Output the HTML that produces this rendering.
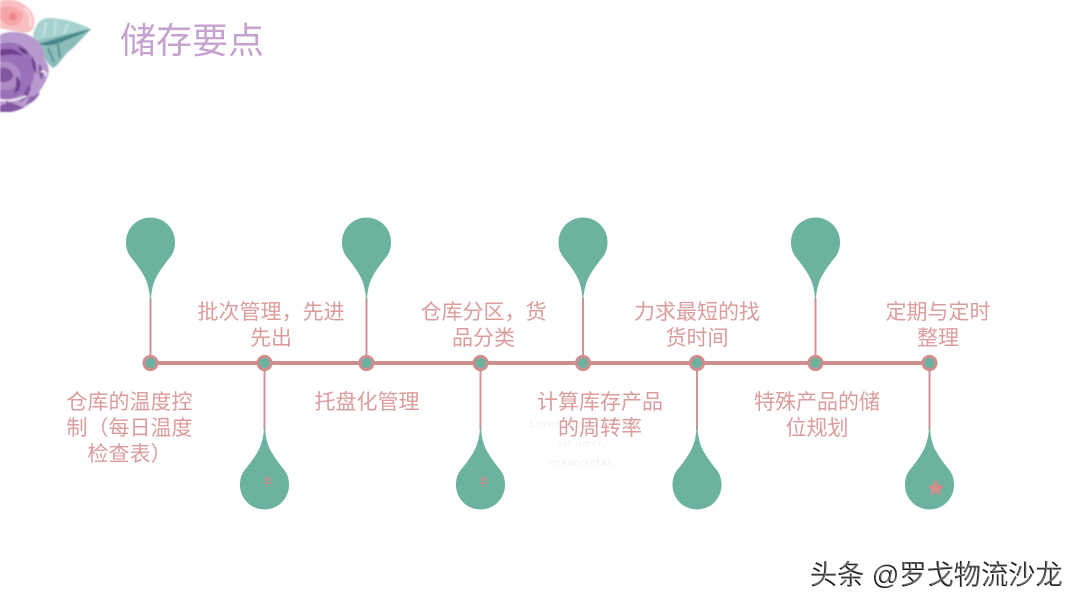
<!DOCTYPE html>
<html lang="zh">
<head>
<meta charset="utf-8">
<style>
html,body{margin:0;padding:0;background:#fff;}
#p{position:relative;width:1080px;height:608px;overflow:hidden;background:#fff;font-family:"Liberation Sans","Noto Sans CJK SC",sans-serif;}
svg{position:absolute;left:0;top:0;}
.t{position:absolute;text-align:center;color:#dc9c9b;font-size:21px;line-height:26px;white-space:nowrap;transform:translateX(-50%);}
#title{position:absolute;left:120px;top:16px;font-size:36px;line-height:50px;color:#c6a2cf;white-space:nowrap;}
.wm{position:absolute;left:810px;top:556px;font-size:27.2px;line-height:38px;color:#111;white-space:nowrap;letter-spacing:0;}
.wm.o{left:811px;top:555px;color:rgba(255,255,255,.35);}
.f{position:absolute;color:#f0eeee;font-family:"Liberation Serif",serif;font-style:italic;font-size:11px;line-height:19px;text-align:center;white-space:nowrap;transform:translateX(-50%);letter-spacing:1.3px;}
</style>
</head>
<body>
<div id="p">
<svg width="1080" height="608" viewBox="0 0 1080 608">
  <defs>
    <filter id="b"><feGaussianBlur stdDeviation="0.7"/></filter>
    <path id="up" d="M0,303 C-1,289 -3,282 -7,275 C-11,268 -15,263 -19,258 C-22.5,254 -24.5,249 -24.5,242 A24.5,24.5 0 1 1 24.5,242 C24.5,249 22.5,254 19,258 C15,263 11,268 7,275 C3,282 1,289 0,303 Z"/>
    <path id="dn" d="M0,424 C1,438 3,445 7,452 C11,459 15,464 19,469 C22.5,473 24.5,478 24.5,485 A24.5,24.5 0 1 1 -24.5,485 C-24.5,478 -22.5,473 -19,469 C-15,464 -11,459 -7,452 C-3,445 -1,438 0,424 Z"/>
  </defs>

  <!-- leaf -->
  <g filter="url(#b)">
    <path d="M33,35 C36,24 40,19 47,18 C62,18 78,22 91,29 C84,36 76,46 68,52 C62,58 58,66 53,68 C46,62 40,54 36,48 Z" fill="#a5d2cf"/>
    <path d="M34,41 C52,38 72,32 91,29 C84,36 76,46 68,52 C62,58 58,66 53,68 C46,62 40,54 34,41 Z" fill="#8dbdbb"/>
    <path d="M38,44 C54,40 72,33 91,29 C82,35 72,37 62,42 C54,45 46,47 38,44 Z" fill="#47878c"/>
    <path d="M46,22 L44,36 M56,21 L54,36 M68,24 L64,34" stroke="#c4e2df" stroke-width="2" fill="none"/>
    <path d="M48,48 L54,62 M58,44 L60,58" stroke="#5f999a" stroke-width="2.5" fill="none"/>
  </g>
  <!-- pink rose -->
  <g filter="url(#b)">
    <path d="M0,1 C8,-2 20,0 27,7 C34,12 36,22 33,29 C28,34 20,33 14,31 C8,30 4,29 0,28 Z" fill="#f9c0c2"/>
    <path d="M3,7 C10,4 19,8 23,14 C24,20 19,26 12,26 C7,25 2,22 0,18 L0,9 Z" fill="#f6a6ab"/>
    <path d="M10,13 C13,11 17,14 17,18 C15,22 11,21 9,18 Z" fill="#f0868d"/>
    <path d="M24,8 C30,12 32,20 30,27" stroke="#fde0e0" stroke-width="2" fill="none"/>
  </g>
  <!-- purple rose -->
  <g filter="url(#b)">
    <path d="M0,35 C8,30 24,31 34,38 C42,44 44,52 45,60 C49,66 50,72 47,78 C44,86 40,90 36,96 C32,104 22,110 12,112 L0,112 Z" fill="#b899cf"/>
    <path d="M0,44 C12,40 24,44 30,54 C36,64 36,80 28,90 C20,98 8,100 0,98 Z" fill="#9a70b8"/>
    <path d="M0,50 C10,47 18,50 23,56 C18,54 8,54 0,56 Z" fill="#6f3f90"/>
    <path d="M18,47 C22,47 27,50 28,54 C25,55 21,52 18,47 Z" fill="#65378a"/>
    <path d="M32,56 C36,62 37,68 36,74 C33,70 31,62 32,56 Z" fill="#734596"/>
    <path d="M39,64 C43,68 44,74 42,80 C39,76 38,70 39,64 Z" fill="#80549f"/>
    <path d="M0,62 C8,60 16,64 20,72 C22,80 18,88 8,90 L0,90 Z" fill="#ad8cc6"/>
    <path d="M0,68 C6,66 12,70 13,75 C13,81 6,83 0,82 Z" fill="#82549f"/>
    <path d="M16,76 C22,80 22,90 14,94 C16,88 17,82 16,76 Z" fill="#6c3f92"/>
    <path d="M30,84 C32,90 28,98 20,102 C22,96 26,90 30,84 Z" fill="#7d4f9d"/>
    <path d="M0,100 C8,102 18,100 26,96" stroke="#efe6f4" stroke-width="2" fill="none"/>
    <path d="M30,96 C34,98 36,94 40,92 C38,98 32,104 26,104 Z" fill="#8f66ae"/>
    <path d="M10,102 L24,108 L10,112 L0,112 L0,106 Z" fill="#8458a3"/>
    <path d="M41,72 C44,70 46,72 46,76" stroke="#f0e8f5" stroke-width="2" fill="none"/>
    <circle cx="7" cy="102" r="1" fill="#333"/>
  </g>

  <!-- stems -->
  <g stroke="#d49393" stroke-width="2" fill="none">
    <line x1="150.5" y1="298" x2="150.5" y2="363"/>
    <line x1="366.5" y1="298" x2="366.5" y2="363"/>
    <line x1="583" y1="298" x2="583" y2="363"/>
    <line x1="815.5" y1="298" x2="815.5" y2="363"/>
    <line x1="264.5" y1="363" x2="264.5" y2="430"/>
    <line x1="480.5" y1="363" x2="480.5" y2="430"/>
    <line x1="697" y1="363" x2="697" y2="430"/>
    <line x1="929.5" y1="363" x2="929.5" y2="430"/>
  </g>
  <line x1="150" y1="363" x2="930" y2="363" stroke="#cf8e8e" stroke-width="4"/>

  <!-- drops -->
  <g fill="#6bb2a0">
    <use href="#up" x="150.5"/>
    <use href="#up" x="366.5"/>
    <use href="#up" x="583"/>
    <use href="#up" x="815.5"/>
    <use href="#dn" x="264.5"/>
    <use href="#dn" x="480.5"/>
    <use href="#dn" x="697"/>
    <use href="#dn" x="929.5"/>
  </g>

  <!-- nodes -->
  <g fill="#6bb2a0" stroke="#cf8e8e" stroke-width="3">
    <circle cx="150.5" cy="363" r="6.6"/>
    <circle cx="264.5" cy="363" r="6.6"/>
    <circle cx="366.5" cy="363" r="6.6"/>
    <circle cx="480.5" cy="363" r="6.6"/>
    <circle cx="583" cy="363" r="6.6"/>
    <circle cx="697" cy="363" r="6.6"/>
    <circle cx="815.5" cy="363" r="6.6"/>
    <circle cx="929.5" cy="363" r="6.6"/>
  </g>

  <!-- small icons in drops -->
  <g stroke="#d08b8b" stroke-width="1.2" fill="none">
    <path d="M267.5,487 V477 M263.5,481 L267.5,477 L271.5,481 M264,483 H271"/>
    <path d="M483.5,487 V477 M479.5,481 L483.5,477 L487.5,481 M480,483 H487"/>
  </g>
  <path d="M936,479 L938.6,485 L944,486 L940,490.5 L941.2,495.5 L936,492.6 L930.5,495.5 L931.8,490.5 L927.5,486 L933.2,485 Z" fill="#d08b8b"/>
</svg>

<div id="title">储存要点</div>

<div class="f" style="left:582px;top:415px;">Lorem ipsum dolor<br>sit amet,<br>consectetur.</div>

<div class="t" style="left:129.5px;top:390px;">仓库的温度控<br>制（每日温度<br>检查表）</div>
<div class="t" style="left:271px;top:300px;">批次管理，先进<br>先出</div>
<div class="t" style="left:367px;top:390px;">托盘化管理</div>
<div class="t" style="left:483.5px;top:300px;">仓库分区，货<br>品分类</div>
<div class="t" style="left:600px;top:390px;">计算库存产品<br>的周转率</div>
<div class="t" style="left:697px;top:300px;">力求最短的找<br>货时间</div>
<div class="t" style="left:817px;top:390px;">特殊产品的储<br>位规划</div>
<div class="t" style="left:938px;top:300px;">定期与定时<br>整理</div>

<div class="wm">头条 @罗戈物流沙龙</div>
<div class="wm o" aria-hidden="true">头条 @罗戈物流沙龙</div>
</div>
</body>
</html>
